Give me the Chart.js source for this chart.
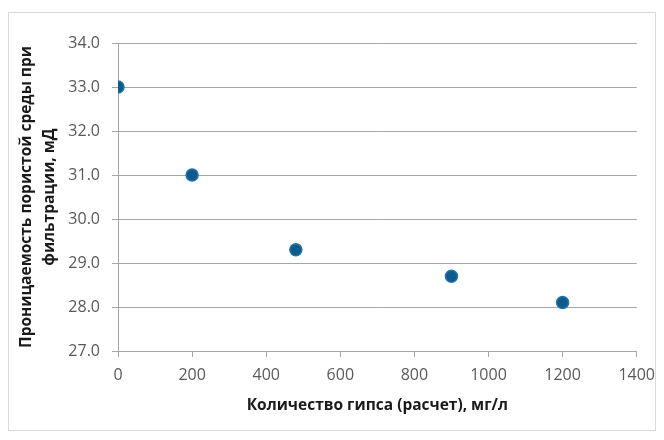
<!DOCTYPE html>
<html>
<head>
<meta charset="utf-8">
<script src="https://cdn.jsdelivr.net/npm/chart.js@4/dist/chart.umd.min.js"></script>
<style>
html,body{margin:0;padding:0;background:#fff;}
#wrap{width:664px;height:440px;}
</style>
</head>
<body>
<div id="wrap"><canvas id="c" width="664" height="440"></canvas></div>
<script>
const gypsum = [0, 200, 480, 900, 1200];
const permeability = [33.0, 31.0, 29.3, 28.7, 28.1];
const xTitle = 'Количество гипса (расчет), мг/л';
const yTitle = ['Проницаемость пористой среды при', 'фильтрации, мД'];

const points = gypsum.map((x, i) => ({x: x, y: permeability[i]}));

const frame = {
  id: 'frame',
  beforeDraw(chart) {
    const ctx = chart.ctx;
    ctx.save();
    ctx.fillStyle = '#ffffff';
    ctx.fillRect(0, 0, chart.width, chart.height);
    ctx.strokeStyle = '#d9d9d9';
    ctx.lineWidth = 1;
    ctx.strokeRect(8.5, 12.5, 647, 418);
    ctx.restore();
  }
};

new Chart(document.getElementById('c'), {
  type: 'scatter',
  data: {
    datasets: [{
      data: points,
      backgroundColor: '#0d5b8c',
      borderColor: '#2474a8',
      borderWidth: 1.5,
      pointRadius: 6,
      pointHoverRadius: 6
    }]
  },
  options: {
    responsive: false,
    animation: false,
    devicePixelRatio: 1,
    layout: {padding: {left: 0, top: 43, right: 24, bottom: 0}},
    plugins: {legend: {display: false}, tooltip: {enabled: false}},
    scales: {
      x: {
        type: 'linear',
        min: 0, max: 1400,
        ticks: {stepSize: 200, color: '#595959', font: {family: 'Open Sans', size: 16}, padding: 9,
                callback: v => String(v)},
        grid: {drawOnChartArea: false, drawTicks: true, tickLength: 6, color: '#a6a6a6'},
        border: {color: '#a6a6a6'},
        title: {display: true, text: xTitle, color: '#1a1a1a', font: {family: 'Open Sans', size: 15.5, weight: 'bold', lineHeight: 1.5}, padding: {top: 0, bottom: 23}},
        afterFit(s) { s.height = 89; }
      },
      y: {
        type: 'linear',
        min: 27, max: 34,
        ticks: {stepSize: 1, color: '#595959', font: {family: 'Open Sans', size: 16}, padding: 12,
                callback: v => Number(v).toFixed(1)},
        grid: {color: '#a6a6a6', tickLength: 6},
        border: {color: '#a6a6a6'},
        title: {display: true, text: yTitle, color: '#1a1a1a', font: {family: 'Open Sans', size: 15.5, weight: 'bold', lineHeight: 1.5}, padding: {top: 15, bottom: 0}},
        afterFit(s) { s.width = 118; }
      }
    }
  },
  plugins: [frame]
});
</script>
</body>
</html>
